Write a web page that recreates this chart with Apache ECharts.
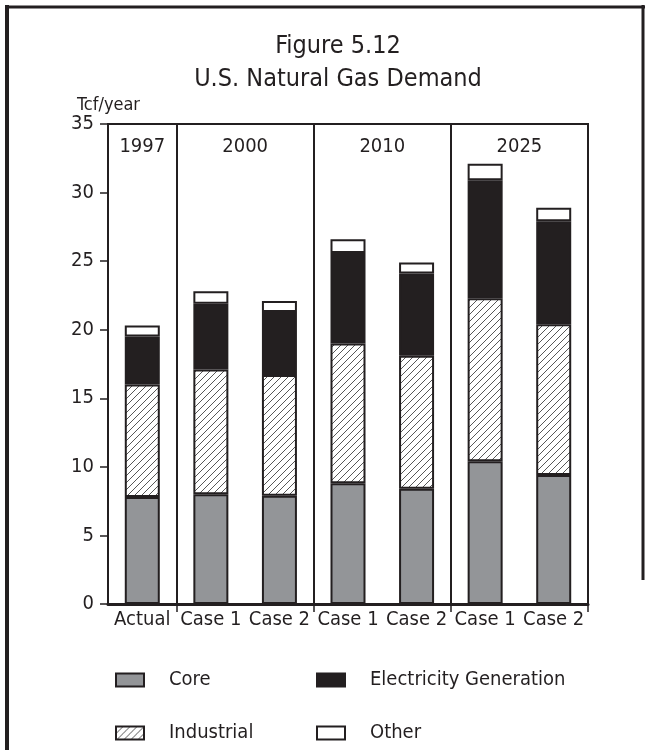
<!DOCTYPE html>
<html>
<head>
<meta charset="utf-8">
<script src="https://cdn.jsdelivr.net/npm/echarts@6/dist/echarts.min.js"></script>
<style>
  html, body { margin: 0; padding: 0; background: #fff; }
  #chart { width: 649px; height: 750px; }
</style>
</head>
<body>
<div id="chart"></div>
<script>
// categories on the x axis (bottom) and the year groups on top
var categories = ["Actual", "Case 1", "Case 2", "Case 1", "Case 2", "Case 1", "Case 2"];
var yearLabels = ["1997", "2000", "2010", "2025"];
var yearSpans = [[0, 1], [1, 3], [3, 5], [5, 7]]; // which categories each year covers

// Tcf/year
var core        = [7.8, 8.0, 7.9, 8.8, 8.4, 10.4, 9.4];
var industrial  = [8.2, 9.1, 8.8, 10.2, 9.7, 11.9, 11.0];
var electricity = [3.5, 4.8, 4.6, 6.6, 6.0, 8.6, 7.5];
var other       = [0.8, 0.9, 0.8, 1.0, 0.8, 1.2, 1.0];

var yTicks = [0, 35, 5]; // min, max, step

var FONT = "'DejaVu Sans Condensed', 'Liberation Sans', Arial, sans-serif";
var INK = "#231f20";

// hatch for the industrial bars
function makeHatch() {
  var c = document.createElement("canvas");
  var s = 7;
  c.width = s;
  c.height = s;
  var ctx = c.getContext("2d");
  ctx.fillStyle = "#fff";
  ctx.fillRect(0, 0, s, s);
  ctx.strokeStyle = "#444";
  ctx.lineWidth = 0.9;
  ctx.beginPath();
  ctx.moveTo(-1, s + 1);
  ctx.lineTo(s + 1, -1);
  ctx.moveTo(-1, 1);
  ctx.lineTo(1, -1);
  ctx.moveTo(s - 1, s + 1);
  ctx.lineTo(s + 1, s - 1);
  ctx.stroke();
  return c;
}

// groups split by vertical lines at these category boundaries
var dividerAt = [1, 3, 5];

var dom = document.getElementById("chart");
var myChart = echarts.init(dom, null, { renderer: "canvas" });

function barSeries(name, data, fill) {
  return {
    name: name,
    type: "bar",
    stack: "total",
    barWidth: 35,
    data: data,
    itemStyle: { color: fill, borderColor: INK, borderWidth: 2 },
    emphasis: { disabled: true },
    animation: false
  };
}

// one legend box per entry so the two columns line up
function legendItem(name, left, top) {
  return {
    data: [name],
    left: left,
    top: top,
    itemWidth: 28,
    itemHeight: 13,
    icon: "rect",
    selectedMode: false,
    textStyle: { fontFamily: FONT, fontSize: 20, color: INK, padding: [0, 0, 0, 20] }
  };
}

var option = {
  animation: false,
  title: {
    text: "Figure 5.12\nU.S. Natural Gas Demand",
    left: 333,
    top: 25,
    textAlign: "center",
    textStyle: { fontFamily: FONT, fontSize: 25, fontWeight: "normal", color: INK, lineHeight: 33 }
  },
  legend: [
    legendItem("Core", 110, 665),
    legendItem("Industrial", 110, 718),
    legendItem("Electricity Generation", 311, 665),
    legendItem("Other", 311, 718)
  ],
  grid: {
    left: 108,
    right: 61,
    top: 124,
    bottom: 146,
    show: true,
    borderColor: INK,
    borderWidth: 2,
    containLabel: false
  },
  xAxis: [
    {
      type: "category",
      data: categories,
      boundaryGap: true,
      axisLine: { lineStyle: { color: INK, width: 3 } },
      axisTick: {
        show: true,
        length: 8,
        interval: function (i) { return dividerAt.indexOf(i) >= 0; },
        lineStyle: { color: INK, width: 1.5 }
      },
      splitLine: {
        show: true,
        interval: function (i) { return dividerAt.indexOf(i) >= 0; },
        lineStyle: { color: INK, width: 2 }
      },
      axisLabel: { interval: 0, margin: 6, fontFamily: FONT, fontSize: 20, color: INK }
    },
    {
      // year headers inside the top of the plot
      type: "value",
      position: "top",
      min: 0,
      max: categories.length,
      interval: 0.5,
      axisLine: { show: false },
      axisTick: { show: false },
      splitLine: { show: false },
      axisLabel: {
        inside: true,
        margin: 13,
        fontFamily: FONT,
        fontSize: 20,
        color: INK,
        formatter: function (v) {
          for (var k = 0; k < yearSpans.length; k++) {
            if (Math.abs((yearSpans[k][0] + yearSpans[k][1]) / 2 - v) < 1e-6) return yearLabels[k];
          }
          return "";
        }
      }
    }
  ],
  yAxis: {
    type: "value",
    min: yTicks[0],
    max: yTicks[1],
    interval: yTicks[2],
    name: "Tcf/year",
    nameLocation: "end",
    nameGap: 10,
    nameTextStyle: { fontFamily: FONT, fontSize: 18, color: INK, align: "left", padding: [0, 0, 0, -31] },
    axisLine: { show: true, lineStyle: { color: INK, width: 2 } },
    axisTick: { show: true, length: 8, lineStyle: { color: INK, width: 1.5 } },
    splitLine: { show: false },
    axisLabel: { margin: 14, fontFamily: FONT, fontSize: 20, color: INK }
  },
  series: [
    barSeries("Core", core, "#939598"),
    barSeries("Industrial", industrial, { image: makeHatch(), repeat: "repeat" }),
    barSeries("Electricity Generation", electricity, INK),
    barSeries("Other", other, "#ffffff")
  ],
  graphic: [
    // page frame around the figure
    { type: "line", shape: { x1: 7, y1: 5, x2: 7, y2: 750 }, style: { stroke: INK, lineWidth: 4 } },
    { type: "line", shape: { x1: 5, y1: 7, x2: 645, y2: 7 }, style: { stroke: INK, lineWidth: 3 } },
    { type: "line", shape: { x1: 643, y1: 5, x2: 643, y2: 580 }, style: { stroke: INK, lineWidth: 3 } }
  ]
};

if (option && typeof option === "object") {
  myChart.setOption(option);
}

window.addEventListener("resize", myChart.resize);
</script>
</body>
</html>
